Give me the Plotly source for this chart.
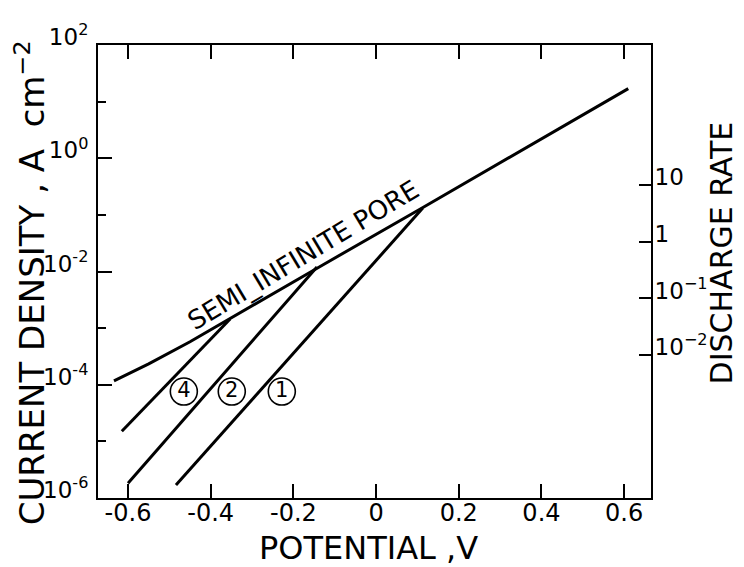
import plotly.graph_objects as go

# ---- data (potential in V, log10 of current density in A cm^-2)
semi_v = [-0.634, -0.55, -0.45, -0.361, -0.128, 0.106, 0.389, 0.610]
semi_logi = [-3.93, -3.63, -3.24, -2.86, -1.88, -0.90, 0.29, 1.23]

c1_v = [-0.484, 0.113]
c1_logi = [-5.77, -0.88]

c2_v = [-0.600, -0.143]
c2_logi = [-5.74, -1.92]

c4_v = [-0.615, -0.353]
c4_logi = [-4.82, -2.84]

curve_labels = ["4", "2", "1"]
label_v = [-0.465, -0.349, -0.228]
label_logi = [-4.12, -4.12, -4.12]

semi_label = "SEMI_INFINITE PORE"
semi_label_v = -0.176
semi_label_logi = -1.70

x_ticks = [-0.6, -0.4, -0.2, 0, 0.2, 0.4, 0.6]
x_ticktext = ["-0.6", "-0.4", "-0.2", "0", "0.2", "0.4", "0.6"]
y_ticks = [1e-6, 1e-4, 1e-2, 1, 1e2]
y_ticktext = ["10<sup>-6</sup>", "10<sup>-4</sup>", "10<sup>-2</sup>", "10<sup>0</sup>", "10<sup>2</sup>"]
y_minor = [1e-5, 1e-3, 1e-1, 1e1]
rate_ticks = [1e-2, 1e-1, 1, 10]
rate_ticktext = ["10<sup>−2</sup>", "10<sup>−1</sup>", "1", "10"]

FONT = "DejaVu Sans"

def pw(lst):
    return [10 ** v for v in lst]

fig = go.Figure()
line_style = dict(color="black", width=3)
for xs, ys in [(semi_v, semi_logi), (c1_v, c1_logi), (c2_v, c2_logi), (c4_v, c4_logi)]:
    fig.add_trace(go.Scatter(x=xs, y=pw(ys), mode="lines", line=line_style,
                             showlegend=False, hoverinfo="skip"))

fig.add_trace(go.Scatter(
    x=label_v, y=pw(label_logi), mode="markers+text", text=curve_labels,
    textposition="middle center",
    textfont=dict(family=FONT, size=21, color="black"),
    marker=dict(symbol="circle-open", size=27, color="black", line=dict(width=1.6, color="black")),
    showlegend=False, hoverinfo="skip"))

# dummy trace for the right-hand (discharge rate) axis
fig.add_trace(go.Scatter(x=[None], y=[None], yaxis="y2", mode="lines",
                         showlegend=False, hoverinfo="skip"))

axis_common = dict(showline=True, linewidth=2, linecolor="black", ticks="inside",
                   tickwidth=2, tickcolor="black", showgrid=False, zeroline=False)

fig.update_layout(
    width=736, height=559,
    margin=dict(l=90, r=93, t=32, b=69),
    paper_bgcolor="white", plot_bgcolor="white",
    font=dict(family=FONT, color="black"),
    xaxis=dict(range=[-0.6726, 0.665], tickvals=x_ticks, ticktext=x_ticktext,
               ticklen=14, mirror="ticks", tickfont=dict(size=24),
               ticklabelstandoff=-8, **axis_common),
    yaxis=dict(type="log", range=[-6, 2], tickvals=y_ticks, ticktext=y_ticktext,
               ticklen=14, mirror=False, tickfont=dict(size=23), ticklabelshift=-8,
               ticklabelstandoff=3,
               minor=dict(tickvals=y_minor, ticks="inside", ticklen=8, tickwidth=2,
                          tickcolor="black", showgrid=False),
               **axis_common),
    yaxis2=dict(type="log", overlaying="y", side="right", range=[-4.524, 3.476],
                tickvals=rate_ticks, ticktext=rate_ticktext, ticklen=12,
                tickfont=dict(size=23), ticklabelshift=-8, ticklabelstandoff=-3,
                **axis_common),
    annotations=[
        dict(text="POTENTIAL ,V", xref="paper", yref="paper", x=0.49, y=-0.111,
             xanchor="center", yanchor="middle", showarrow=False,
             font=dict(size=32, family=FONT)),
        dict(text="CURRENT DENSITY , A\u00a0\u00a0cm<sup>−2</sup>", xref="paper", yref="paper",
             x=-0.124, y=0.475, xanchor="center", yanchor="middle", textangle=-90,
             showarrow=False, font=dict(size=34, family=FONT)),
        dict(text="DISCHARGE RATE", xref="paper", yref="paper", x=1.1266, y=0.54,
             xanchor="center", yanchor="middle", textangle=-90, showarrow=False,
             font=dict(size=30, family=FONT)),
        dict(text=semi_label, xref="x", yref="y", x=semi_label_v, y=semi_label_logi,
             xanchor="center", yanchor="middle", textangle=-31, showarrow=False,
             font=dict(size=26, family=FONT)),
    ],
)

fig.write_html("out.html")
